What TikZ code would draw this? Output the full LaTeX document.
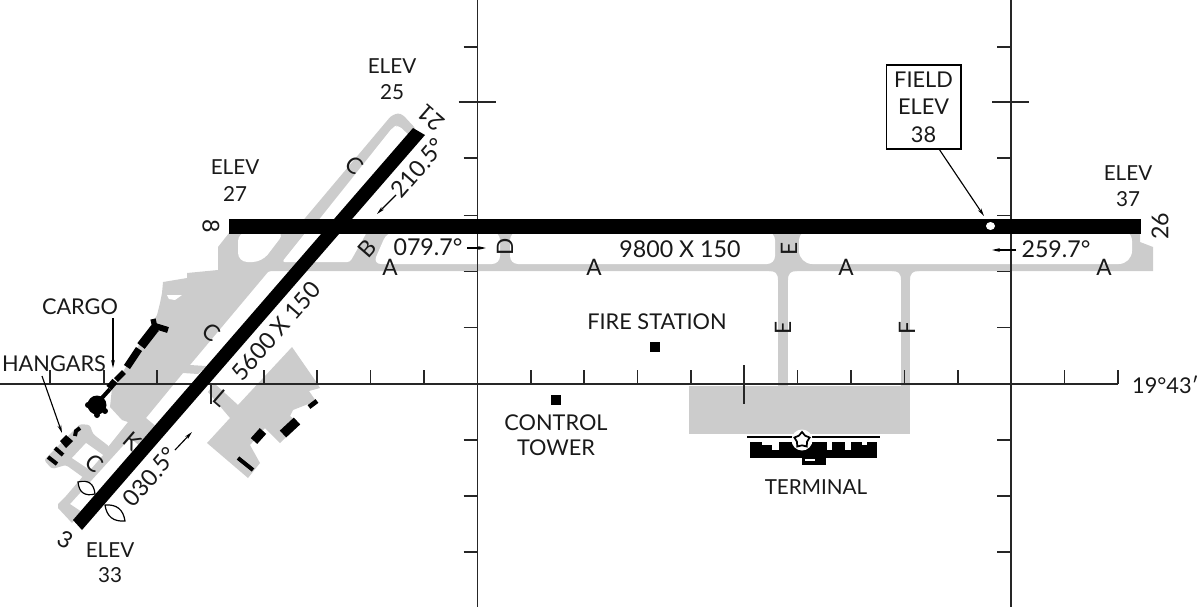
\documentclass[tikz,border=0pt]{standalone}
\usepackage{fontspec}
\setmainfont{Lato}
\usetikzlibrary{arrows.meta,shapes.geometric}
\definecolor{pave}{gray}{0.80}
\tikzset{
  x=0.75pt,y=-0.75pt,
  lbl/.style={inner sep=0pt,font=\fontsize{15.5}{17}\selectfont,text=black!90},
  lblb/.style={lbl,font=\fontsize{16.3}{18}\selectfont},
  num/.style={lbl,font=\fontsize{17.4}{19}\selectfont},
  letter/.style={lbl,font=\fontsize{17}{19}\selectfont},
  grid/.style={draw=black!85,line width=1.3pt},
  gridthin/.style={draw=black!85,line width=1.05pt},
  lead/.style={draw=black,line width=0.85pt,-{Stealth[length=6pt,width=2.8pt]}},
  gfill/.style={fill=pave},
  hole/.style={fill=white,rounded corners=5pt},
  rwy/.style={fill=black},
  bar/.style={draw=black,line cap=butt},
}
\begin{document}
\begin{tikzpicture}
\useasboundingbox (0,0) rectangle (1200,607);
% ---------- pavement
\fill[gfill] (229,233) -- (218,247) -- (218,271) -- (1153,271) -- (1153,247) -- (1140,242) -- (1140,233) -- cycle;
% upper C
\fill[gfill,rounded corners=2pt] (290,236) -- (391,116) -- (398,113) -- (403,115) -- (416,129) -- (340,225) -- cycle;
\fill[white,rounded corners=3pt] (306,236) -- (393,127) -- (398,125) -- (412,138) -- (345,236) -- cycle;
% west apron and taxiway
\fill[gfill] (218,258) -- (218,270) -- (187,273) -- (187,278) -- (163,282) -- (162,293) -- (160,303) -- (157,315)
  -- (118,380) -- (112,388) -- (110,407) -- (122,420) -- (128,422) -- (108,447) -- (66,496) -- (58,504) -- (58,508) -- (72,523)
  -- (82,512) -- (70,504) -- (130,438) -- (140,446) -- (158,428) -- (146,418) -- (183,373) -- (198,374) -- (206,366) -- (190,365) -- (268,272) -- (295,262) -- cycle;
\fill[white] (167,295) -- (182,295) -- (175,300) -- (169,299) -- cycle;
% hangar loop
\fill[gfill,rounded corners=2pt] (44,460) -- (80,424) -- (90,425) -- (93,434) -- (110,447) -- (90,478) -- (84,478) -- (66,465) -- (52,469) -- cycle;
\fill[white] (86,443) -- (103,455) -- (90,470) -- (72,458) -- cycle;
% south-east apron
\fill[gfill] (292,347) -- (317,383) -- (320,388) -- (309,391) -- (316,401) -- (293,410) -- (290,416) -- (300,424) -- (280,443)
  -- (265,428) -- (250,445) -- (260,463) -- (248,478) -- (207,443) -- (230,418) -- (208,392) -- (214,383) -- (238,405) -- cycle;
% E and F taxiways, terminal apron
\fill[gfill] (778,270) rectangle (788,386);
\fill[gfill] (901,270) rectangle (910,386);
\fill[gfill] (769,271) .. controls (775,271) and (778,273) .. (778,280) -- (788,280) .. controls (788,273) and (791,271) .. (797,271) -- cycle;
\fill[gfill] (892,271) .. controls (898,271) and (901,273) .. (901,280) -- (910,280) .. controls (910,273) and (913,271) .. (919,271) -- cycle;
\fill[gfill] (689,386) rectangle (910,434);
% holes between runway 8-26 and taxiway A
\fill[hole,rounded corners=7pt] (238,232) -- (238,262) -- (262,262) -- (285,232) -- cycle;
\fill[hole,rounded corners=2pt] (282,262) -- (306,232) -- (340,232) -- (312,262) -- cycle;
\fill[hole,rounded corners=2pt] (312,262) -- (335,232) -- (367,232) -- (350,262) -- cycle;
\fill[hole,rounded corners=6pt] (387,232) -- (373,264) -- (500,264) -- (500,232) -- cycle;
\fill[hole,rounded corners=6pt] (510,232) rectangle (775,264);
\fill[white,rounded corners=10pt] (799,228) rectangle (1132,264);
% ---------- grid
\draw[grid] (477.5,0) -- (477.5,607);
\draw[grid] (1011,0) -- (1011,607);
\draw[grid] (0,384) -- (1118,384);
\foreach \vx in {477.5,1011}{
  \foreach \vy in {47,158,215.5,271.5,327.5,440,496,552}{\draw[gridthin] (\vx-14,\vy) -- (\vx,\vy);}
  \draw[gridthin] (\vx-19,102) -- (\vx+18,102);
}
\foreach \hx in {50,104,157,264,317,370.5,424,531,584,637.5,691,797.5,851,904.5,958,1064.5,1118}{\draw[gridthin] (\hx,370) -- (\hx,384);}
\draw[gridthin] (744,365) -- (744,404);
\draw[gridthin] (211,384) -- (211,404);
% ---------- runways
\fill[rwy] (229,219) rectangle (1141,234);
\fill[rwy] (413,128) -- (425,135) -- (82,530) -- (73,520) -- cycle;
\coordinate (dot) at (990.5,226);
\fill[white] (dot) circle [x radius=4.5,y radius=4];
% ---------- cargo, hangars, ramps
\draw[bar,line width=7pt] (155,328) -- (141,346);
\draw[bar,line width=5.5pt] (139,349) -- (127,367);
\draw[bar,line width=4.2pt] (124,372) -- (116,380);
\draw[bar,line width=5pt] (115,381) -- (109,388);
\draw[bar,line width=3pt] (110,389) -- (101,399);
\fill[black] (97,405) circle (9.5);
\fill[black] (88,405) circle (3) (97,415) circle (3) (105,411) circle (3);
\draw[bar,line width=4pt] (153,319) -- (156,332);
\draw[bar,line width=4.5pt] (155,326) -- (168,330);
\draw[bar,line width=3pt] (48,457) -- (57,464);
\draw[bar,line width=3pt] (55,448) -- (63,455);
\fill[black] (66,435) -- (73,441) -- (66,448) -- (60,441) -- cycle;
\draw[bar,line width=3pt] (75,436) -- (76,431) -- (80,428);
\draw[bar,line width=3pt] (238,458) -- (253,470);
\draw[bar,line width=6.5pt] (254,441) -- (263,431);
\draw[bar,line width=7pt] (283,434) -- (297,421);
\draw[bar,line width=3.5pt] (309,407) -- (317,401);
% threshold lights
\draw[black,line width=0.9pt,fill=white] (78,482) .. controls (79,492.5) and (84.7,496.5) .. (95,494) .. controls (93.9,483.5) and (88.3,479.5) .. (78,482) -- cycle;
\draw[black,line width=0.9pt,fill=white] (105,505) .. controls (106.7,516.5) and (113.3,521.9) .. (125,521) .. controls (123.3,509.5) and (116.7,504.1) .. (105,505) -- cycle;
% ---------- terminal
\fill[black] (750,442) rectangle (877,458);
\fill[black] (802,458) rectangle (826,464.5);
\fill[white] (805,458.5) rectangle (815,461);
\fill[white] (762,439) rectangle (795,442);
\fill[white] (762,442) rectangle (779,444.5);
\fill[white] (772,444) rectangle (779,450);
\fill[white] (827,439) rectangle (867,442);
\fill[white] (827,442) rectangle (832,450);
\fill[white] (845,442) rectangle (851,450);
\fill[white] (862,442) rectangle (867,444.5);
\draw[black,line width=1.6pt] (747,437) -- (880,437);
\fill[white] (802,440) circle (10.5);
\node[star,star points=5,star point ratio=1.5,draw=black,line width=1.3pt,fill=white,minimum size=12pt,inner sep=0pt] (starmark) at (802,440) {};
\node[fill=black,minimum size=6.8pt,inner sep=0pt] (firesq) at (655,347) {};
\node[fill=black,minimum size=6.8pt,inner sep=0pt] (towersq) at (556,400) {};
% ---------- labels
\node[lbl] (e25a) at (392,66) {ELEV};
\node[lbl] (e25b) at (392,92) {25};
\node[lbl] (e27a) at (235,167) {ELEV};
\node[lbl] (e27b) at (235,194) {27};
\node[lbl] (e37a) at (1128,173) {ELEV};
\node[lbl] (e37b) at (1128,199) {37};
\node[lbl] (e33a) at (110,550) {ELEV};
\node[lbl] (e33b) at (110,575) {33};
\node[lblb] (cargo) at (80,307) {CARGO};
\node[lblb] (hangars) at (54,364) {HANGARS};
\node[lblb] (fire) at (657,322) {FIRE STATION};
\node[lblb] (ctl) at (556,423) {CONTROL};
\node[lblb] (tow) at (556,448) {TOWER};
\node[lbl] (term) at (816,487) {TERMINAL};
\node[num] (len1) at (680,249) {9800 X 150};
\node[num,rotate=49] (len2) at (276,331) {5600 X 150};
\node[num] (h079) at (428,247) {079.7°};
\node[num] (h259) at (1056,249) {259.7°};
\node[num,rotate=49] (h210) at (418,168) {210.5°};
\node[num,rotate=49] (h030) at (150,477) {030.5°};
\node[lblb,anchor=east] (lat) at (1199,385) {19°43′};
\node[num,rotate=-90] (r8) at (211,226) {8};
\node[num,rotate=90] (r26) at (1160,226) {26};
\node[num,rotate=139] (r21) at (431,118) {21};
\node[num,rotate=-30] (r3) at (65,540) {3};
\node[letter] (a1) at (390,267) {A};
\node[letter] (a2) at (594,267) {A};
\node[letter] (a3) at (846,267) {A};
\node[letter] (a4) at (1104,267) {A};
\node[letter,rotate=-41] (c1) at (355,165) {C};
\node[letter,rotate=-41] (c2) at (212,332) {C};
\node[letter,rotate=-41] (c3) at (95,463) {C};
\node[letter,rotate=-41] (k) at (132,441) {K};
\node[letter,rotate=-41] (l) at (221,398) {L};
\node[letter,rotate=49] (b) at (367,249) {B};
\node[letter,rotate=90] (d) at (505,247) {D};
\node[letter,rotate=90] (e1) at (789,249) {E};
\node[letter,rotate=90] (e2) at (783,328) {E};
\node[letter,rotate=90] (f) at (907,328) {F};
\node[lbl,draw=black,line width=1pt,fill=white,align=center,minimum width=56pt,minimum height=63pt,font=\fontsize{16.3}{20.5}\selectfont] (field) at (923.5,107) {FIELD\\ELEV\\38};
% ---------- leaders and course arrows
\coordinate (cargotip) at (113,368);
\coordinate (hangtip) at (62,433);
\coordinate (fieldtip) at (984,216);
\coordinate (fieldfoot) at (939,149);
\draw[lead] (113,318) -- (cargotip);
\draw[lead] (42,376) -- (hangtip);
\draw[lead] (fieldfoot) -- (fieldtip);
\draw[lead] (467,248) -- (486,248);
\draw[lead] (1016,250) -- (992,250);
\draw[lead] (396,195) -- (377,214);
\draw[lead] (175,450) -- (192,432);
\end{tikzpicture}
\end{document}
